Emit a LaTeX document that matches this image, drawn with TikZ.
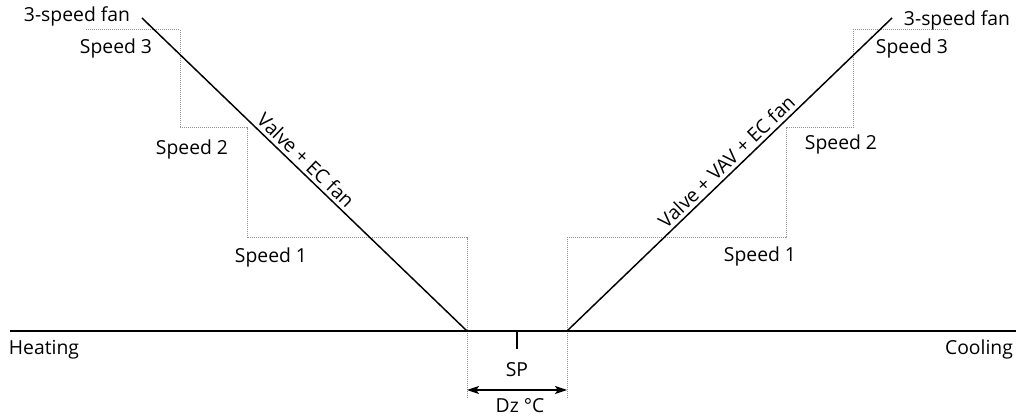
\documentclass[tikz,border=0pt]{standalone}
\usepackage{fontspec}
\setmainfont{Open Sans}
\usetikzlibrary{arrows.meta,calc}
\tikzset{
  axisline/.style = {line width=1.1pt},
  ramp/.style = {line width=1.1pt},
  speedstep/.style = {draw=gray!85, line width=0.75pt, dash pattern=on 1pt off 0.5pt},
  lbl/.style = {anchor=base, inner sep=0pt, font=\fontsize{14.5}{17}\selectfont},
  ramplabel/.style = {sloped, above, inner sep=2.5pt, font=\fontsize{14.5}{17}\selectfont},
  dzarrow/.style = {{Stealth[length=9pt,width=6pt,inset=2pt]}-{Stealth[length=9pt,width=6pt,inset=2pt]}, line width=0.8pt}
  }

\begin{document}
\begin{tikzpicture}[x=0.75pt,y=-0.75pt]
\useasboundingbox (0,0) rectangle (1018,416);

\coordinate (axisL) at (10,331);
\coordinate (axisR) at (1016,331);
\coordinate (dzL) at (467,331);
\coordinate (dzR) at (567,331);
\coordinate (heattop) at (142,18);
\coordinate (cooltop) at (892,18);
\coordinate (sp) at (517,331);
\coordinate (sptick) at (517,349);

% heating side steps
\coordinate (h3a) at (86,30);
\coordinate (h3b) at (180,30);
\coordinate (h2a) at (180,128);
\coordinate (h2b) at (247,128);
\coordinate (h1a) at (247,238);
\coordinate (h1b) at (467,238);
\coordinate (hbot) at (467,398);

% cooling side steps
\coordinate (cbot) at (567,398);
\coordinate (c1a) at (567,238);
\coordinate (c1b) at (786,238);
\coordinate (c2a) at (786,128);
\coordinate (c2b) at (853,128);
\coordinate (c3a) at (853,30);
\coordinate (c3b) at (948,30);

\coordinate (dzarrL) at (467,390);
\coordinate (dzarrR) at (567,390);

\draw[speedstep] (h3a) -- (h3b) -- (h2a) -- (h2b) -- (h1a) -- (h1b) -- (hbot);
\draw[speedstep] (cbot) -- (c1a) -- (c1b) -- (c2a) -- (c2b) -- (c3a) -- (c3b);

\draw[axisline] (axisL) -- (axisR);
\draw[axisline] (sp) -- (sptick);
\draw[ramp] (heattop) -- node[ramplabel,pos=0.48] {Valve + EC fan} (dzL);
\draw[ramp] (dzR) -- node[ramplabel,pos=0.515] {Valve + VAV + EC fan} (cooltop);
\draw[dzarrow] (dzarrL) -- (dzarrR);

\node[lbl] (fanL) at (77,22) {3-speed fan};
\node[lbl] (spd3L) at (116,54) {Speed 3};
\node[lbl] (spd2L) at (192,155) {Speed 2};
\node[lbl] (spd1L) at (271,263) {Speed 1};
\node[lbl] (heating) at (44,355) {Heating};

\node[lbl] (fanR) at (957,26) {3-speed fan};
\node[lbl] (spd3R) at (912,54) {Speed 3};
\node[lbl] (spd2R) at (841,150) {Speed 2};
\node[lbl] (spd1R) at (760,262) {Speed 1};
\node[lbl] (cooling) at (979,355) {Cooling};

\node[lbl] (splabel) at (517,377) {SP};
\node[lbl] (dzlabel) at (520,413) {Dz °C};
\end{tikzpicture}
\end{document}
